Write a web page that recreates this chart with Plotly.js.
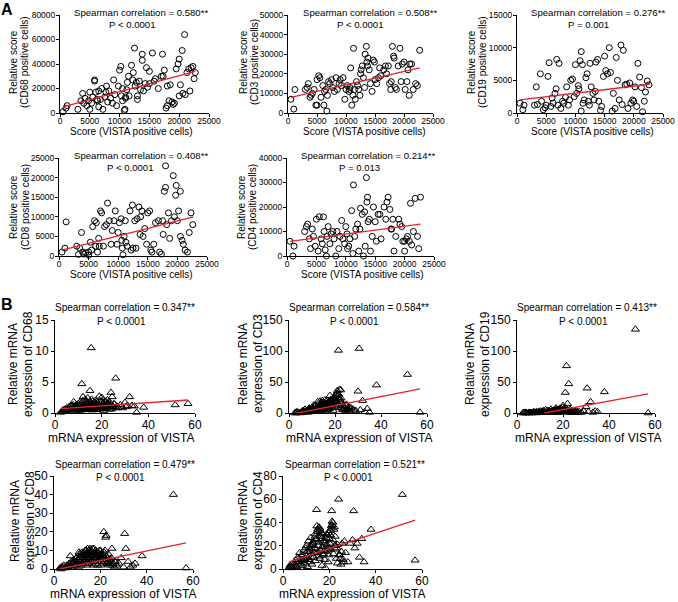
<!DOCTYPE html>
<html><head><meta charset="utf-8">
<script src="https://cdn.plot.ly/plotly-3.0.1.min.js"></script>
<style>html,body{margin:0;padding:0;background:#fff}</style>
</head><body><div id="chart" style="width:678px;height:602px"></div>
<script>
// ---------- Panel A data (IHC scores) ----------
const a1X = [500,1000,1200,3000,3500,3800,4000,4200,4500,4800,
5000,5000,5300,5500,5800,5800,6000,6200,6300,6500,
6500,6800,7000,7200,7500,7700,7800,8000,8200,8500,
8800,9000,9200,9500,9800,10000,10200,10300,10500,10500,
10800,10900,11000,11000,11200,11300,11500,11600,12000,12200,
12300,12500,12600,12800,13000,13000,13300,13500,13800,13800,
14000,14300,14500,14700,15000,15000,15500,15800,16000,16500,
17000,17200,17300,17500,17800,18000,18000,18300,18500,18800,
19000,19200,19500,19800,20000,20000,20200,20500,20600,20900,
21000,21300,21600,21800,22000,22300,22500,22700];
const a1Y = [1000,4000,6000,3000,10000,16000,8000,12000,6000,10000,
17000,3000,8000,13000,26000,27000,17000,11000,10000,5000,
18000,11000,20000,3000,13000,17000,22000,9000,18000,12000,
8000,27000,15000,6000,22000,35000,38000,14000,10000,20000,
2000,3000,12000,13000,19000,25000,30000,14000,39000,27000,
33000,53000,22000,25000,14000,11000,26000,19000,43000,48000,
18000,24000,37000,21000,34000,24000,49000,26000,28000,20000,
30000,48000,30000,35000,4000,22000,6000,10000,23000,9000,
7000,8000,36000,40000,44000,14000,23000,51000,16000,64000,
15000,33000,36000,18000,37000,38000,28000,33000];
const a1FitX = [500,22700], a1FitY = [5000,34000];

const a2X = [500,1000,1200,3000,3300,3500,3800,4000,4200,4500,
4800,5000,5000,5300,5500,5700,6000,6200,6300,6500,
6700,6800,7000,7200,7500,7700,8000,8300,8500,8800,
9000,9200,9500,9800,10000,10200,10500,10600,10700,10800,
11000,11200,11300,11500,11600,11800,12000,12200,12400,12500,
12600,12800,13000,13200,13300,13500,13600,13700,13800,14000,
14200,14500,14700,14900,15000,15300,15600,15800,16000,16500,
16800,17000,17300,17500,17700,17800,18000,18200,18300,18500,
18700,19000,19300,19500,19700,20000,20200,20500,20700,20900,
21000,21300,21600,22000,22300,22700];
const a2Y = [7000,2000,12000,12000,13000,15000,8000,9000,10000,12000,
4000,4000,17000,19000,18000,8000,14000,4000,11000,12000,
1000,9000,16000,15000,17000,13000,11000,18000,12000,15000,
17000,14000,18000,7000,12000,14000,11000,12000,13000,23000,
4000,9000,33000,12000,7000,16000,14000,12000,9000,20000,
22000,24000,18000,13000,30000,34000,26000,24000,28000,22000,
15000,11000,27000,26000,17000,15000,18000,23000,19000,22000,
24000,20000,24000,15000,12000,16000,34000,29000,28000,13000,
12000,24000,33000,16000,25000,26000,12000,16000,22000,9000,
25000,25000,12000,15000,14000,32000];
const a2FitX = [500,22700], a2FitY = [8000,23000];

const a3X = [500,1000,1200,3000,3300,3500,4000,4200,4500,4800,
5000,5300,5500,5800,6000,6200,6500,6700,6800,7000,
7200,7500,7800,8000,8300,8500,8800,9000,9200,9500,
9800,10000,10200,10500,10600,10800,11000,11000,11200,11300,
11500,11800,12000,12200,12400,12500,12700,13000,13200,13400,
13500,13800,14000,14300,14500,14800,15000,15200,15500,15800,
16000,16300,16500,16800,17000,17200,17500,17800,18000,18200,
18500,18800,19000,19300,19500,19800,20000,20200,20500,20700,
21000,21300,21500,21800,22000,22300,22600];
const a3Y = [1500,500,1200,1200,4000,1300,6000,1800,500,800,
1200,5600,7700,1000,2300,1500,3000,3700,8200,1200,
7600,700,1800,1500,2400,4000,1200,2000,5000,5200,
2500,7400,3000,4200,3700,8000,9400,300,7400,1500,
2000,5400,6000,1800,1200,7600,4000,3000,2000,3300,
7800,8200,1800,400,1000,5600,8700,6500,6000,10000,
6200,300,3000,700,8500,5000,2000,10400,1300,9600,
4300,4400,700,4600,1500,2000,1800,4000,1000,7600,
5500,3900,200,1800,3200,4900,4300];
const a3FitX = [500,22700], a3FitY = [2000,4400];

const a4X = [500,1000,1200,3000,3300,3500,3800,4000,4200,4500,
5000,5000,5300,5500,5700,6000,6200,6300,6500,6700,
6800,7000,7200,7500,7700,8000,8200,8500,8800,9000,
9300,9500,9800,10000,10200,10500,10600,10700,10800,11000,
11200,11300,11500,12000,12200,12400,12500,12800,13000,13200,
13500,13700,13800,14000,14200,14500,14800,15000,15300,15500,
15700,16000,16300,16800,17000,17300,17500,17600,17800,18000,
18000,18200,18500,18700,19000,19300,19500,19700,19800,20000,
20200,20500,20500,20800,21000,21300,21700,22000,22300,22600];
const a4Y = [1000,2000,8700,2500,400,2000,6000,1000,500,800,
1000,200,3500,1500,7500,9000,2500,8500,1000,4500,
2500,11500,11000,2500,7500,8000,13500,9000,3000,6500,
9000,11500,3000,6000,8500,9500,4000,2000,300,5000,
9000,3500,2500,11500,1500,13000,2000,9000,2000,9500,
12500,5500,10000,11500,5000,7000,3000,11000,11500,1500,
1000,3000,8500,9000,1000,500,9000,5500,16500,17500,
23000,8000,11000,4500,9000,20500,10000,15500,18000,9000,
11500,16500,5000,4000,3000,1500,1000,6000,11000,8000];
const a4FitX = [500,22700], a4FitY = [1500,10000];

const a5X = [500,1000,1200,3000,3300,3500,3800,4000,4300,4500,
4800,5000,5300,5500,5800,6000,6200,6300,6500,6700,
6800,7000,7300,7500,7800,8000,8300,8500,8800,9000,
9300,9500,9800,10000,10200,10300,10500,10700,11000,11200,
11300,11500,11700,12000,12200,12400,12500,12800,13000,13200,
13300,13500,13600,13700,13800,14000,14200,14500,14700,15000,
15200,15500,15800,16000,16500,16800,17000,17200,17500,17700,
17800,18000,18200,18500,19000,19200,19500,19700,20000,20000,
20300,20500,20800,21000,21200,21500,21800,22200,22400,22700];
const a5Y = [6000,0,4000,10000,12000,13000,7000,3000,11000,8000,
4000,15000,2000,16000,7000,5000,16000,10000,2500,0,
8000,12000,5000,9000,10000,7000,0,10000,3000,8000,
14500,7000,5000,12000,9000,3000,4000,7000,18500,1000,
29000,8000,11000,13000,2000,11000,19500,17000,0,18000,
4000,32000,22000,24000,14000,15000,2000,8000,20000,14000,
6000,17000,17000,7000,20000,15000,22000,24000,19000,11000,
11000,15000,2000,8000,15000,13000,12000,6000,2000,6000,
7000,8000,6000,21500,4500,10000,23500,8000,3000,24000];
const a5FitX = [500,22700], a5FitY = [6000,13000];

// ---------- Panel B data (mRNA, shared VISTA values) ----------
const bX = [2.5,3,3.2,3.5,4,4.2,5,5.5,6,6.5,
7,7.2,7.5,8,8.3,8.5,9,9.2,9.5,10,
10.2,10.5,11,11.2,11.5,11.8,12,12.3,12.5,13,
13.2,13.5,13.8,14,14.2,14.5,14.8,15,15.2,15.5,
15.8,16,16.2,16.5,16.8,17,17.3,17.5,18,18.3,
18.5,19,19.2,19.5,20,20.3,20.5,21,21.2,21.5,
21.8,22,22.3,22.5,23,23.3,23.5,24,24.5,25,
25.5,26,26.5,27,28,29,30,30.5,31,32,
33,34,35,38,51.5,57,9.8,10.8,12.8,13.6,
14.6,15.6,16.6,17.8,18.8,19.8,20.8,22.8,8.8,11.6,
5.2,6.2,7.8,8.6,9.4,10.4,11.4,12.1,12.6,13.4,
14.1,14.4,15.1,15.4,15.9,16.3,16.9,17.2,17.6,18.1,
18.6,19.1,19.6,20.1,20.6,21.1,21.6,22.1,22.6,23.6,
24.2,24.8,25.2,26.2,11.9,13.9,16.1,17.9,19.4,20.9];
const bCD68 = [0.1,0.3,0.2,0.5,0.3,0.6,0.8,0.4,1.0,0.6,
1.2,0.5,0.9,1.8,0.7,1.1,0.4,1.3,0.8,1.5,
0.6,1.0,1.9,0.5,4.7,1.2,2.6,0.8,1.4,2.2,
0.7,1.6,1.0,2.4,0.5,1.2,1.8,3.6,0.9,10.5,
1.4,0.7,1.9,1.1,0.6,1.5,2.0,0.8,1.3,1.7,
0.9,2.7,1.2,0.6,2.5,1.0,1.6,1.3,0.7,1.9,
1.1,1.5,0.8,2.1,1.2,0.6,1.7,3.3,2.6,1.0,
1.4,5.6,1.1,0.9,1.3,0.8,1.7,1.0,1.2,2.6,
1.2,1.1,0.1,0.9,1.3,1.5,0.9,1.3,0.6,1.8,
1.0,2.2,1.2,0.5,1.4,1.1,0.8,1.6,1.0,0.7,
0.5,0.9,1.3,0.7,1.1,0.4,1.6,0.9,1.2,0.6,
1.4,0.8,1.9,1.0,0.5,1.3,0.9,1.7,0.6,1.2,
1.5,0.8,1.0,1.8,0.7,1.1,1.4,0.9,1.6,1.2,
0.6,1.0,1.5,0.8,2.0,1.3,0.5,1.1,1.8,0.4];
const bCD3 = [0,1,0,2,0.5,1,0,2,3,1,
6,2,4,3,1,5,2,7,3,9,
4,6,10,2,12,5,8,3,18,7,
11,19,4,14,8,20,6,17,10,13,
3,15,8,20,5,12,18,7,14,22,
9,16,4,25,11,20,30,36,14,101,
24,38,8,37,15,5,12,9,4,14,
6,10,3,8,6,4,35,104,5,20,
2,7,1,45,62,1,5,13,9,6,
16,21,11,28,17,26,32,18,8,3,
1,4,3,6,2,8,5,10,7,12,
9,15,6,11,14,8,17,10,13,20,
12,16,22,9,18,27,30,21,24,11,
7,12,5,9,4,16,13,19,23,28];
const bCD19 = [0,0.5,0,1,0,0.5,0,1,0.5,0,
1,2,0.5,1,0,2,1,0.5,2,1,
3,0.5,2,1,4,0.5,2,1,5,0.5,
2,3,1,4,0.5,2,6,1,3,2,
0.5,4,1,3,6,8,2,5,1,3,
7,7,2,4,12,3,5,33,8,76,
4,15,2,47,6,1,3,2,0.5,4,
1,3,0.5,2,1,3,10,40,2,18,
1,3,2,34,135,0,1,2,0.5,3,
1,2,4,1,5,9,3,2,0.5,1,
0,0.5,1,0.5,1.5,1,2,0.5,1,3,
1,2,0.5,4,1,2,3,1,5,2,
1,4,2,6,3,2,5,1,3,2,
1,0.5,2,1,0.5,1,3,2,4,6];
const bCD8 = [0.5,0,1,0.5,1,2,0.5,2,1,3,
7,2,4,1,3,5,2,4,6,3,
5,1,8,4,6,2,9,5,3,7,
4,10,6,2,8,11,5,9,3,11,
7,10,4,8,6,2,9,5,10,3,
7,4,9,6,10,2,8,5,7,20,
4,10,17,18,6,3,8,2,5,11,
3,1,4,2,3,6,1,19,11,4,
1,2,3,7,40,0.5,6,9,4,8,
3,9,11,6,2,8,5,3,4,7,
1,2,3,4,2,5,6,3,7,4,
8,6,10,5,9,7,4,11,8,6,
9,5,10,7,8,6,9,4,7,5,
3,6,2,4,8,10,9,7,5,3];
const bCD4 = [1,3,2,4,1,3,5,8,2,10,
6,14,4,12,7,3,16,9,5,20,
11,2,24,8,15,6,27,13,4,22,
10,18,30,7,25,51,14,34,20,36,
9,28,16,31,3,19,12,24,8,1,
15,21,29,6,26,17,33,50,41,40,
13,34,20,28,9,18,5,60,12,4,
22,8,24,14,6,22,25,50,18,22,
10,26,6,34,64,7.5,18,10,23,14,
37,11,26,16,30,12,35,20,7,17,
3,6,8,12,9,15,18,10,21,14,
26,17,32,23,35,28,19,30,13,24,
27,16,31,22,29,38,25,36,17,21,
12,9,15,6,20,28,33,22,18,37];
const b1FitX = [2.5,57], b1FitY = [0.7,2.1];
const b2FitX = [4,57],   b2FitY = [0,39];
const b3FitX = [12,57],  b3FitY = [0,31];
const b4FitX = [2.5,57], b4FitY = [0,14];
const b5FitX = [2.5,57], b5FitY = [6,42];

// ---------- Ticks & texts ----------
const aXTicks = [0,5000,10000,15000,20000,25000];
const a1YTicks = [0,20000,40000,60000,80000];
const a2YTicks = [0,10000,20000,30000,40000,50000];
const a3YTicks = [0,5000,10000,15000];
const a4YTicks = [0,5000,10000,15000,20000,25000];
const a5YTicks = [0,10000,20000,30000,40000];
const bXTicks = [0,20,40,60];
const b1YTicks = [0,5,10,15];
const b2YTicks = [0,50,100,150];
const b3YTicks = [0,50,100,150];
const b4YTicks = [0,10,20,30,40,50];
const b5YTicks = [0,20,40,60,80];

const corrTexts = ['Spearman correlation = 0.580**','Spearman correlation = 0.508**','Spearman correlation = 0.276**',
  'Spearman correlation = 0.408**','Spearman correlation = 0.214**',
  'Spearman correlation = 0.347**','Spearman correlation = 0.584**','Spearman correlation = 0.413**',
  'Spearman correlation = 0.479**','Spearman correlation = 0.521**'];
const pTexts = ['P < 0.0001','P < 0.0001','P = 0.001','P < 0.0001','P = 0.013',
  'P < 0.0001','P < 0.0001','P < 0.0001','P < 0.0001','P < 0.0001'];
const yTitle1 = ['Relative score','Relative score','Relative score','Relative score','Relative score',
  'Relative mRNA','Relative mRNA','Relative mRNA','Relative mRNA','Relative mRNA'];
const yTitle2 = ['(CD68 positive cells)','(CD3 positive cells)','(CD19 positive cells)','(CD8 positive cells)',
  '(CD4 positive cells)','expression of CD68','expression of CD3','expression of CD19',
  'expression of CD8','expression of CD4'];
const xTitleA = 'Score (VISTA positive cells)';
const xTitleB = 'mRNA expression of VISTA';

// ---------- Layout geometry (pixels) ----------
const W = 678, H = 602;
const px = v => v / W, py = v => 1 - v / H;
const FONT = 'Liberation Sans, Arial, Helvetica, sans-serif';
const RED = '#e3242b';

// box: [left, right, top, bottom]; c/p: stat text centres; xtl: x title centre;
// yl: [line1 x, line2 x, centre y] of the y title
const panels = [
  {x:a1X,y:a1Y,fx:a1FitX,fy:a1FitY,xr:[0,25000],yr:[0,80000],xt:aXTicks,yt:a1YTicks,box:[60,209,15,113],
   c:[141,13],p:[132,24],xtl:[131,131],yl:[13,24,62],B:false},
  {x:a2X,y:a2Y,fx:a2FitX,fy:a2FitY,xr:[0,25000],yr:[0,50000],xt:aXTicks,yt:a2YTicks,box:[288,433,15,113],
   c:[370,13],p:[360,24],xtl:[364,131],yl:[243,254,62],B:false},
  {x:a3X,y:a3Y,fx:a3FitX,fy:a3FitY,xr:[0,25000],yr:[0,15000],xt:aXTicks,yt:a3YTicks,box:[517,663,15,113],
   c:[598,13],p:[588,24],xtl:[592,131],yl:[471,482,62],B:false},
  {x:a4X,y:a4Y,fx:a4FitX,fy:a4FitY,xr:[0,25000],yr:[0,25000],xt:aXTicks,yt:a4YTicks,box:[59,207,158,256],
   c:[141,156],p:[130,167],xtl:[131,274],yl:[13,25,207],B:false},
  {x:a5X,y:a5Y,fx:a5FitX,fy:a5FitY,xr:[0,25000],yr:[0,40000],xt:aXTicks,yt:a5YTicks,box:[287,434,158,256],
   c:[368,156],p:[359,167],xtl:[362,274],yl:[241,252,207],B:false},
  {x:bX,y:bCD68,fx:b1FitX,fy:b1FitY,xr:[0,60],yr:[0,15],xt:bXTicks,yt:b1YTicks,box:[55,195,320,413],
   c:[125,307],p:[121,321],xtl:[121,438],yl:[13,28,364],B:true},
  {x:bX,y:bCD3,fx:b2FitX,fy:b2FitY,xr:[0,60],yr:[0,150],xt:bXTicks,yt:b2YTicks,box:[289,427,320,413],
   c:[359,307],p:[354,321],xtl:[359,438],yl:[243,258,364],B:true},
  {x:bX,y:bCD19,fx:b3FitX,fy:b3FitY,xr:[0,60],yr:[0,150],xt:bXTicks,yt:b3YTicks,box:[517,655,320,413],
   c:[587,307],p:[583,321],xtl:[588,438],yl:[470,485,364],B:true},
  {x:bX,y:bCD8,fx:b4FitX,fy:b4FitY,xr:[0,60],yr:[0,50],xt:bXTicks,yt:b4YTicks,box:[54,193,476,569],
   c:[125,464],p:[120,477],xtl:[123,594],yl:[15,30,521],B:true},
  {x:bX,y:bCD4,fx:b5FitX,fy:b5FitY,xr:[0,60],yr:[0,80],xt:bXTicks,yt:b5YTicks,box:[283,422,476,569],
   c:[355,464],p:[348,477],xtl:[352,594],yl:[243,258,521],B:true}
];

const traces = [];
const layout = {
  width: W, height: H, margin:{l:0,r:0,t:0,b:0},
  paper_bgcolor:'#fff', plot_bgcolor:'#fff', showlegend:false,
  font:{family:FONT, color:'#000'}, annotations:[]
};

panels.forEach((pn, i) => {
  const n = i + 1;
  const xa = n === 1 ? 'x' : 'x' + n, ya = n === 1 ? 'y' : 'y' + n;
  const tickSize = pn.B ? 12 : 8.5;
  traces.push({type:'scatter', mode:'markers', x:pn.x, y:pn.y, xaxis:xa, yaxis:ya, cliponaxis:false,
    marker:{symbol: pn.B ? 'triangle-up-open' : 'circle-open', size: pn.B ? 7 : 6,
            color:'#000', line:{color:'#000', width:1}}, hoverinfo:'skip'});
  traces.push({type:'scatter', mode:'lines', x:pn.fx, y:pn.fy, xaxis:xa, yaxis:ya,
    line:{color:RED, width:1.3}, hoverinfo:'skip'});
  const [x0,x1,y0,y1] = pn.box;
  const axCommon = {showgrid:false, zeroline:false, showline:true, linecolor:'#000', linewidth:1,
    ticks:'outside', ticklen:3, tickwidth:1, tickcolor:'#000', fixedrange:true,
    tickfont:{family:FONT, size:tickSize, color:'#000'}};
  layout[n === 1 ? 'xaxis' : 'xaxis' + n] = Object.assign({}, axCommon, {
    domain:[px(x0), px(x1)], anchor: ya, range: pn.xr,
    tickvals: pn.xt, ticktext: pn.xt.map(String), ticklabelstandoff: pn.B ? -2 : -3});
  layout[n === 1 ? 'yaxis' : 'yaxis' + n] = Object.assign({}, axCommon, {
    domain:[py(y1), py(y0)], anchor: xa, range: pn.yr,
    tickvals: pn.yt, ticktext: pn.yt.map(String), ticklabelstandoff: pn.B ? 0 : -1});
  const annSize = pn.B ? 10 : 9.6;
  const titleSize = pn.B ? 12 : 10;
  const A = (text, xy, size, extra) => layout.annotations.push(Object.assign({
    text, x:px(xy[0]), y:py(xy[1]), xref:'paper', yref:'paper', showarrow:false,
    xanchor:'center', yanchor:'middle', font:{family:FONT, size, color:'#000'}}, extra||{}));
  A(corrTexts[i], pn.c, annSize);
  A(pTexts[i], pn.p, annSize);
  A(pn.B ? xTitleB : xTitleA, pn.xtl, titleSize);
  A(yTitle1[i], [pn.yl[0], pn.yl[2]], titleSize, {textangle:-90});
  A(yTitle2[i], [pn.yl[1], pn.yl[2]], titleSize, {textangle:-90});
});

layout.annotations.push({text:'<b>A</b>', x:px(7), y:py(9), xref:'paper', yref:'paper', showarrow:false,
  xanchor:'center', yanchor:'middle', font:{family:FONT, size:16, color:'#000'}});
layout.annotations.push({text:'<b>B</b>', x:px(7), y:py(304), xref:'paper', yref:'paper', showarrow:false,
  xanchor:'center', yanchor:'middle', font:{family:FONT, size:16, color:'#000'}});

Plotly.newPlot('chart', traces, layout, {staticPlot:true, displayModeBar:false});
</script></body></html>
